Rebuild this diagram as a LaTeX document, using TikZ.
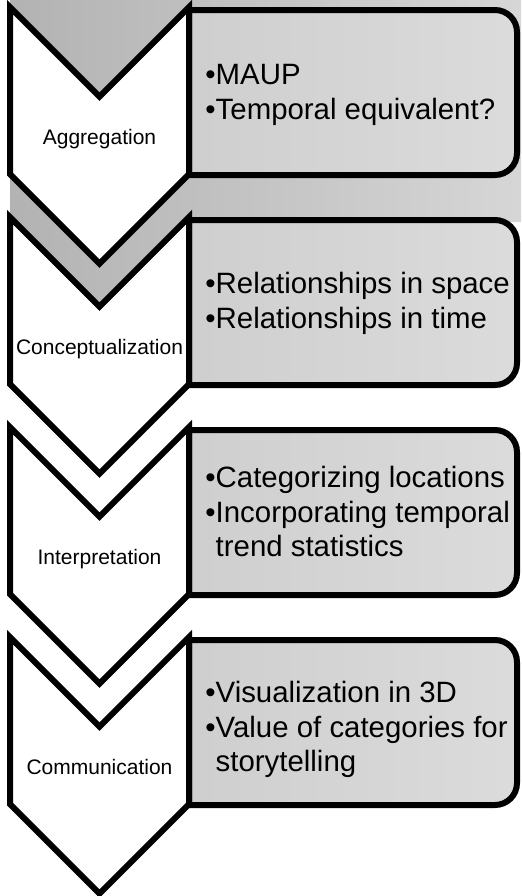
\documentclass[tikz,border=0pt]{standalone}
\usepackage{fontspec}
\setmainfont{Liberation Sans}
\definecolor{bandleft}{gray}{0.70}
\definecolor{bandright}{gray}{0.84}
\definecolor{boxleft}{gray}{0.81}
\definecolor{boxright}{gray}{0.86}

\begin{document}
\begin{tikzpicture}[x=0.5pt,y=-0.5pt,
  chev/.style={draw,line width=3pt,fill=white},
  itembox/.style={draw,line width=3pt,left color=boxleft,right color=boxright},
  stagelabel/.style={font=\fontsize{10.5}{12}\selectfont,anchor=base,inner sep=0pt},
  itemtext/.style={font=\fontsize{14.7}{17.2}\selectfont,align=left,anchor=north west,inner sep=0pt}]
\useasboundingbox (0,0) rectangle (521,896);
% grey band behind the first stage
\shade[left color=bandleft,right color=bandright] (10,0) -- (521,0) -- (521,222) -- (189,222) -- (99.5,311.5) -- (10,222) -- cycle;
\foreach \k/\lab/\cy/\txt in {0/Aggregation/64/{•MAUP\\•Temporal equivalent?},
  1/Conceptualization/272/{•Relationships in space\\•Relationships in time},
  2/Interpretation/466/{•Categorizing locations\\•Incorporating temporal\\\hphantom{•}trend statistics},
  3/Communication/681/{•Visualization in 3D\\•Value of categories for\\\hphantom{•}storytelling}}{
  \pgfmathsetmacro{\ytop}{7+210*\k}
  \pgfmathsetmacro{\ybot}{\ytop+167}
  \draw[itembox] (189,\ytop+3) -- (495,\ytop+3) arc (-90:0:22) -- (517,\ytop+146) arc (0:90:22) -- (189,\ytop+168) -- cycle;
  \draw[chev] (10,\ytop) -- (99.5,\ytop+89.5) -- (189,\ytop) -- (189,\ybot) -- (99.5,\ybot+89.5) -- (10,\ybot) -- cycle;
  \node[stagelabel] (stage\k) at (99.5,\ytop+137) {\lab};
  \node[itemtext] (items\k) at (205,\cy) {\txt};
}
\end{tikzpicture}
\end{document}
